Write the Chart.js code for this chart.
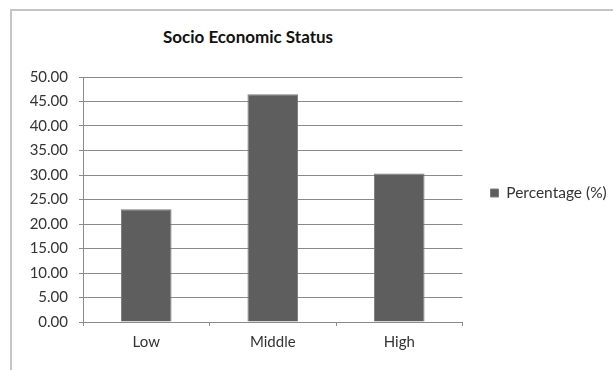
<!DOCTYPE html>
<html>
<head>
<meta charset="utf-8">
<script src="https://cdn.jsdelivr.net/npm/chart.js@4/dist/chart.umd.min.js"></script>
<style>
  html, body { margin: 0; padding: 0; background: #fff; }
  #wrap { position: relative; width: 613px; height: 370px; overflow: hidden; }
  #frame { position: absolute; left: 10px; top: 9px; width: 700px; height: 500px;
           border-left: 2px solid #c4c4c4; border-top: 2px solid #c4c4c4; }
  #title { position: absolute; left: 0; width: 496px; top: 28px; text-align: center;
           font: bold 17px/17px Lato, sans-serif; color: #111; }
  canvas { position: absolute; left: 0; top: 0; }
</style>
</head>
<body>
<div id="wrap">
  <div id="frame"></div>
  <div id="title">Socio Economic Status</div>
  <canvas id="c" width="613" height="370"></canvas>
</div>
<script>
const categories = ["Low", "Middle", "High"];
const percentage = [23.0, 46.5, 30.3];
const seriesName = "Percentage (%)";
const yTicks = [0, 5, 10, 15, 20, 25, 30, 35, 40, 45, 50];

const font = { family: "Lato, sans-serif", size: 15 };
new Chart(document.getElementById("c"), {
  type: "bar",
  data: {
    labels: categories,
    datasets: [{
      label: seriesName,
      data: percentage,
      backgroundColor: "#5e5e5e",
      borderColor: "#7c7c7c",
      borderWidth: 1,
      barPercentage: 0.8,
      categoryPercentage: 0.5
    }]
  },
  options: {
    responsive: false,
    animation: false,
    layout: { padding: { left: 11, top: 28, bottom: 12, right: 0 } },
    plugins: {
      title: { display: false },
      tooltip: { enabled: false },
      legend: {
        position: "right",
        labels: { boxWidth: 8, boxHeight: 8, font: { family: "Lato, sans-serif", size: 15.5 }, color: "#333", padding: 28 }
      }
    },
    scales: {
      y: {
        min: 0, max: 50,
        afterBuildTicks(scale) { scale.ticks = yTicks.map(v => ({ value: v })); },
        afterFit(scale) { scale.width = 72; },
        ticks: { font: font, color: "#333", padding: 11, callback: v => Number(v).toFixed(2) },
        grid: { color: "#8a8a8a", lineWidth: 1, tickLength: 4 },
        border: { color: "#8a8a8a" }
      },
      x: {
        ticks: { font: font, color: "#333", padding: 7 },
        grid: { drawOnChartArea: false, drawTicks: true, tickLength: 4, color: "#8a8a8a", offset: true },
        border: { color: "#8a8a8a" }
      },
      xTop: {
        type: "category",
        position: "top",
        labels: categories,
        afterFit(scale) { scale.height = 49; },
        ticks: { display: false },
        grid: { display: false },
        border: { display: false }
      }
    }
  }
});
</script>
</body>
</html>
